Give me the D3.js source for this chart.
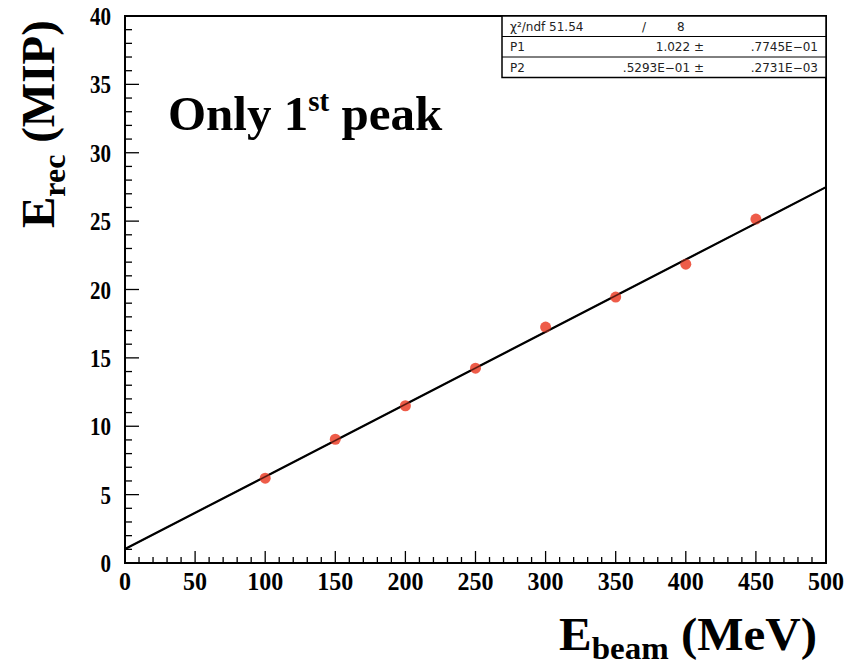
<!DOCTYPE html>
<html><head><meta charset="utf-8">
<script src="https://cdn.jsdelivr.net/npm/d3@7"></script>
<style>body{margin:0;background:#fff}svg{display:block}</style>
</head><body>
<script>
const energies = [100, 150, 200, 250, 300, 350, 400, 450];
const erec = [6.2, 9.05, 11.5, 14.25, 17.25, 19.45, 21.85, 25.15];
const xTicks = [0, 50, 100, 150, 200, 250, 300, 350, 400, 450, 500];
const yTicks = [0, 5, 10, 15, 20, 25, 30, 35, 40];
const fitP1 = 1.022, fitP2 = 0.05293;
const statRows = [["χ²/ndf 51.54", "/", "8"], ["P1", "1.022 ±", ".7745E−01"], ["P2", ".5293E−01 ±", ".2731E−03"]];

const W = 854, H = 668;
const m = {l: 125, r: 28, t: 16, b: 105};
const svg = d3.select("body").append("svg").attr("width", W).attr("height", H);
const x = d3.scaleLinear().domain([0, 500]).range([m.l, W - m.r]);
const y = d3.scaleLinear().domain([0, 40]).range([H - m.b, m.t]);
const serif = "'Liberation Serif','Times New Roman',serif";

// frame
svg.append("rect").attr("x", x(0)).attr("y", y(40)).attr("width", x(500) - x(0)).attr("height", y(0) - y(40))
  .attr("fill", "none").attr("stroke", "#000").attr("stroke-width", 2);

// ticks (inward)
const g = svg.append("g").attr("stroke", "#000").attr("stroke-width", 1.3);
d3.range(0, 501, 10).forEach(v => {
  const major = v % 50 === 0;
  g.append("line").attr("x1", x(v)).attr("x2", x(v)).attr("y1", y(0)).attr("y2", y(0) - (major ? 12 : 6));
});
d3.range(0, 41, 1).forEach(v => {
  const major = v % 5 === 0;
  g.append("line").attr("y1", y(v)).attr("y2", y(v)).attr("x1", x(0)).attr("x2", x(0) + (major ? 14 : 7));
});

// tick labels
svg.append("g").selectAll("text").data(xTicks).join("text")
  .attr("x", d => x(d)).attr("y", y(0) + 27).attr("text-anchor", "middle")
  .attr("font-family", serif).attr("font-weight", "bold").attr("font-size", 26)
  .attr("textLength", d => String(d).length * 12).attr("lengthAdjust", "spacingAndGlyphs")
  .text(d => d);
svg.append("g").selectAll("text").data(yTicks).join("text")
  .attr("x", x(0) - 14).attr("y", d => y(d) + 9).attr("text-anchor", "end")
  .attr("font-family", serif).attr("font-weight", "bold").attr("font-size", 26)
  .attr("textLength", d => String(d).length * 10.5).attr("lengthAdjust", "spacingAndGlyphs")
  .text(d => d);

// fit line
const line = d3.line().x(d => x(d)).y(d => y(fitP1 + fitP2 * d));
svg.append("path").datum([0, 500]).attr("d", line).attr("stroke", "#000").attr("stroke-width", 2.2).attr("fill", "none");

// points
svg.append("g").selectAll("circle").data(energies).join("circle")
  .attr("cx", d => x(d)).attr("cy", (d, i) => y(erec[i])).attr("r", 5.5)
  .attr("fill", "#ec4a35").attr("fill-opacity", 0.9);
svg.append("path").datum([0, 500]).attr("d", line).attr("stroke", "#000").attr("stroke-width", 1.4).attr("fill", "none").attr("opacity", 0.6);

// stats box
const bx = 502, by = y(40), bw = x(500) - 502, rh = 20.5;
svg.append("rect").attr("x", bx).attr("y", by).attr("width", bw).attr("height", rh * 3)
  .attr("fill", "#fff").attr("stroke", "#000").attr("stroke-width", 1.5);
[1, 2].forEach(i => svg.append("line").attr("x1", bx).attr("x2", bx + bw).attr("y1", by + rh * i).attr("y2", by + rh * i).attr("stroke", "#000").attr("stroke-width", 1));
const sfont = "'DejaVu Sans','Liberation Sans',sans-serif";
statRows.forEach((r, i) => {
  const yy = by + rh * i + 14.5;
  const t = svg.append("g").attr("font-family", sfont).attr("font-size", 12).attr("fill", "#222");
  t.append("text").attr("x", 510).attr("y", yy).text(r[0]);
  if (i === 0) {
    t.append("text").attr("x", 642).attr("y", yy).text(r[1]);
    t.append("text").attr("x", 677).attr("y", yy).text(r[2]);
  } else {
    t.append("text").attr("x", 704).attr("y", yy).attr("text-anchor", "end").text(r[1]);
    t.append("text").attr("x", 818).attr("y", yy).attr("text-anchor", "end").text(r[2]);
  }
});

// annotation
const ann = svg.append("text").attr("x", 168).attr("y", 130).attr("font-family", serif).attr("font-weight", "bold").attr("font-size", 49);
ann.append("tspan").text("Only 1");
ann.append("tspan").attr("font-size", 29).attr("dy", -19).text("st");
ann.append("tspan").attr("dy", 19).text(" peak");

// axis titles
const xt = svg.append("text").attr("x", 559).attr("y", 650).attr("font-family", serif).attr("font-weight", "bold").attr("font-size", 46)
  .attr("textLength", 258).attr("lengthAdjust", "spacingAndGlyphs");
xt.append("tspan").text("E");
xt.append("tspan").attr("font-size", 31).attr("dy", 9).text("beam");
xt.append("tspan").attr("dy", -9).text(" (MeV)");

const yt = svg.append("text").attr("transform", "translate(54,228) rotate(-90)").attr("font-family", serif).attr("font-weight", "bold").attr("font-size", 47);
yt.append("tspan").text("E");
yt.append("tspan").attr("font-size", 32).attr("dy", 11).text("rec");
yt.append("tspan").attr("dy", -11).text(" (MIP)");
</script>
</body></html>
